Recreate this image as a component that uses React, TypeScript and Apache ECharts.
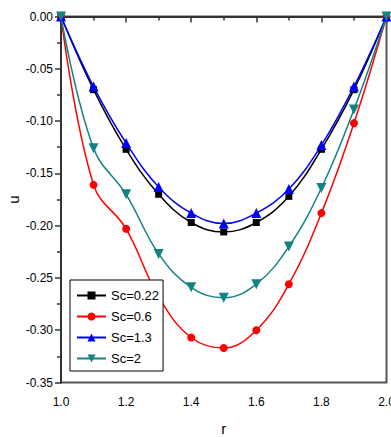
import React, { useEffect, useRef } from "react";
import * as echarts from "echarts";

const rValues = [1.0, 1.1, 1.2, 1.3, 1.4, 1.5, 1.6, 1.7, 1.8, 1.9, 2.0];
const sc022 = [0, -0.07, -0.127, -0.17, -0.197, -0.206, -0.197, -0.172, -0.127, -0.07, 0];
const sc06 = [0, -0.161, -0.203, -0.268, -0.307, -0.317, -0.3, -0.256, -0.188, -0.102, 0];
const sc13 = [0, -0.067, -0.121, -0.163, -0.188, -0.198, -0.188, -0.165, -0.123, -0.067, 0];
const sc2 = [0, -0.126, -0.17, -0.227, -0.259, -0.269, -0.256, -0.22, -0.164, -0.089, 0];
const seriesNames = ["Sc=0.22", "Sc=0.6", "Sc=1.3", "Sc=2"];

const FONT = "'Liberation Sans Narrow', 'Liberation Sans', Arial, sans-serif";

export default function App() {
  const ref = useRef<HTMLDivElement>(null);
  useEffect(() => {
    if (!ref.current) return;
    const chart = echarts.init(ref.current, undefined, { renderer: "svg" });
    const pairs = (ys: number[]) => ys.map((y, i) => [rValues[i], y]);
    const mk = (name: string, ys: number[], color: string, symbol: string, size: number, rotate = 0) => ({
      name,
      type: "line",
      data: pairs(ys),
      smooth: 0.4,
      symbol,
      symbolSize: size,
      symbolRotate: rotate,
      showAllSymbol: true,
      lineStyle: { color, width: 1.5 },
      itemStyle: { color, borderWidth: 0 },
    });
    chart.setOption({
      animation: false,
      backgroundColor: "#fff",
      grid: {
        left: 61,
        top: 16.5,
        right: 4.5,
        bottom: 54.5,
        containLabel: false,
        outerBoundsMode: "none",
        show: true,
        borderColor: "#555",
        borderWidth: 2,
        backgroundColor: "transparent",
      },
      legend: {
        orient: "vertical",
        left: 70,
        top: 280,
        data: seriesNames,
        borderColor: "#000",
        borderWidth: 1,
        backgroundColor: "#fff",
        padding: [8, 4, 5, 6],
        itemGap: 6,
        itemWidth: 29,
        itemHeight: 10,
        textStyle: { fontFamily: FONT, fontSize: 13, color: "#000", lineHeight: 15 },
      },
      xAxis: {
        type: "value",
        min: 1.0,
        max: 2.0,
        interval: 0.2,
        name: "r",
        nameLocation: "middle",
        nameGap: 38,
        nameMoveOverlap: false,
        nameTextStyle: { fontFamily: FONT, fontSize: 15, color: "#000" },
        axisLine: { lineStyle: { color: "#333", width: 2 } },
        axisTick: { inside: false, length: 6, lineStyle: { color: "#333", width: 1.5 } },
        minorTick: { show: true, splitNumber: 2, length: 4, lineStyle: { color: "#333", width: 1.5 } },
        splitLine: { show: false },
        axisLabel: {
          margin: 13,
          fontFamily: FONT,
          fontSize: 12,
          color: "#000",
          formatter: (v: number) => v.toFixed(1),
        },
      },
      yAxis: {
        type: "value",
        min: -0.35,
        max: 0,
        interval: 0.05,
        name: "u",
        nameLocation: "middle",
        nameGap: 40,
        nameMoveOverlap: false,
        nameRotate: 90,
        nameTextStyle: { fontFamily: FONT, fontSize: 15, color: "#000" },
        axisLine: { lineStyle: { color: "#333", width: 2 } },
        axisTick: { inside: false, length: 6, lineStyle: { color: "#333", width: 1.5 } },
        minorTick: { show: true, splitNumber: 2, length: 4, lineStyle: { color: "#333", width: 1.5 } },
        splitLine: { show: false },
        axisLabel: {
          margin: 8,
          fontFamily: FONT,
          fontSize: 12,
          color: "#000",
          formatter: (v: number) => v.toFixed(2),
        },
      },
      series: [
        mk(seriesNames[0], sc022, "#000000", "rect", 7),
        mk(seriesNames[1], sc06, "#ff0000", "circle", 8),
        mk(seriesNames[2], sc13, "#0000ff", "triangle", 10),
        mk(seriesNames[3], sc2, "#128282", "triangle", 10, 180),
      ],
    });
    return () => chart.dispose();
  }, []);
  return (
    <div
      ref={ref}
      style={{ position: "fixed", left: 0, top: 0, width: 391, height: 437, background: "#fff" }}
    />
  );
}
